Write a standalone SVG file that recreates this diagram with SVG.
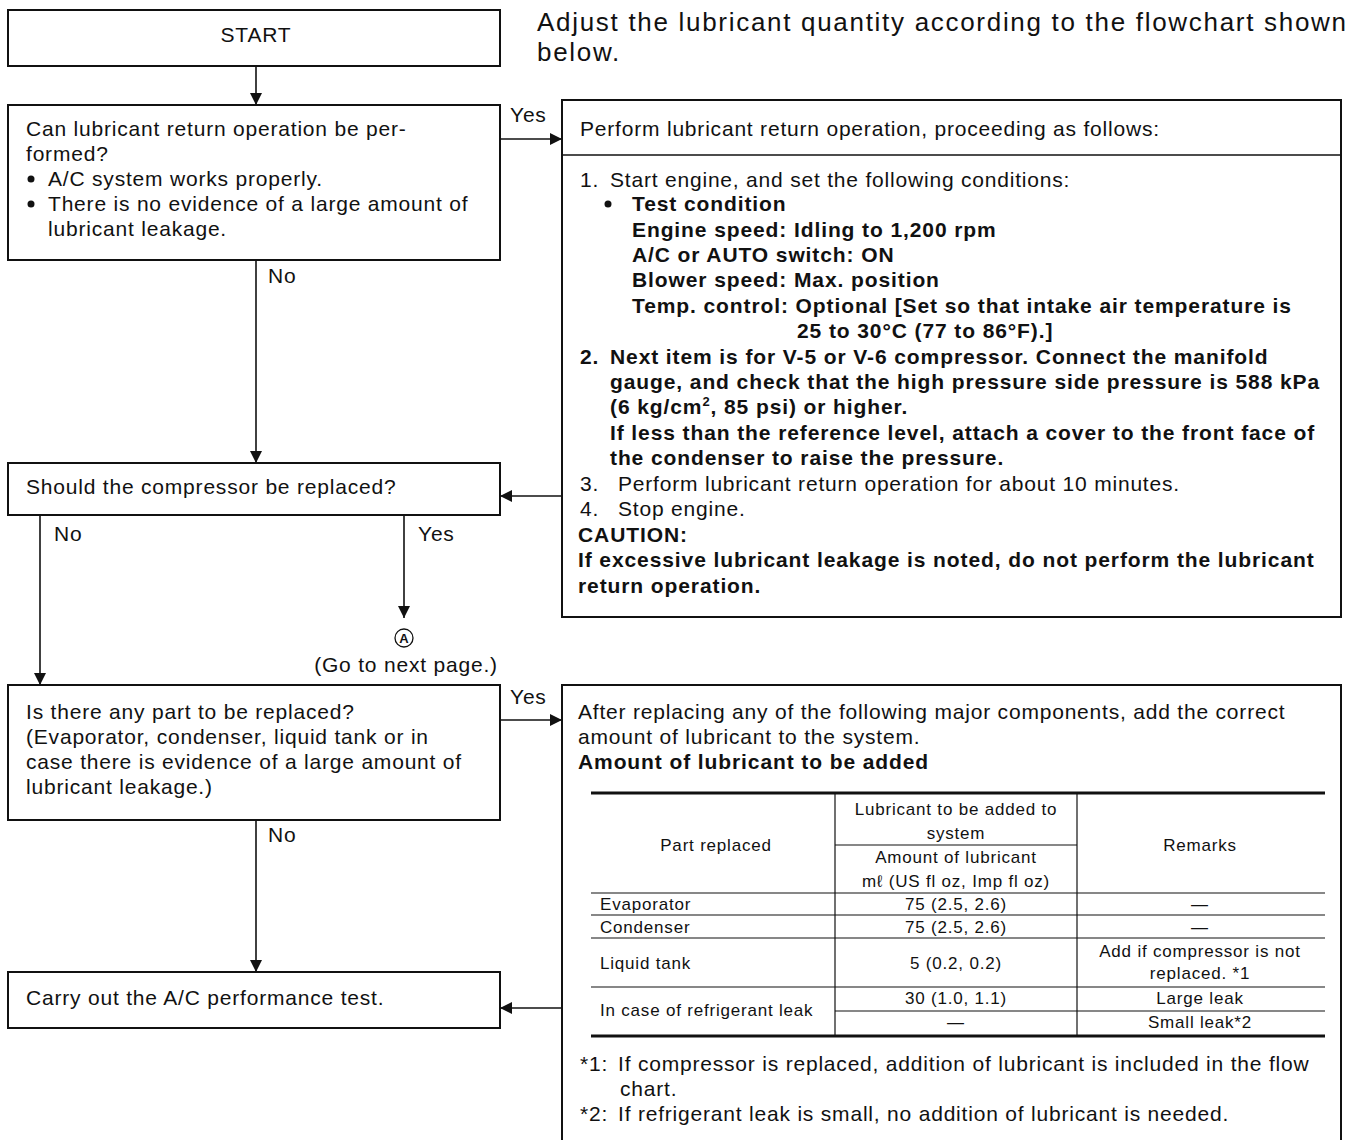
<svg xmlns="http://www.w3.org/2000/svg" width="1351" height="1140" viewBox="0 0 1351 1140">
<defs>
<style>
.box{fill:#fff;stroke:#111;stroke-width:2}
.ln{fill:none;stroke:#111;stroke-width:1.6}
.tl{fill:none;stroke:#111;stroke-width:1.2}
.tk{fill:none;stroke:#111;stroke-width:3}
text{font-family:"Liberation Sans",Arial,sans-serif;fill:#111}
.t{font-size:21px;letter-spacing:0.8px}
.b{font-size:21px;font-weight:bold;letter-spacing:0.9px}
.s{font-size:17px;letter-spacing:0.8px}
.big{font-size:26px;letter-spacing:1.7px}
.m{text-anchor:middle}
</style>
<marker id="ah" viewBox="0 0 10 10" refX="10" refY="5" markerWidth="12" markerHeight="12" markerUnits="userSpaceOnUse" orient="auto">
<path d="M0,0 L10,5 L0,10 z" fill="#111"/>
</marker>
</defs>
<rect width="1351" height="1140" fill="#fff"/>

<text class="big" x="537" y="31">Adjust the lubricant quantity according to the flowchart shown</text>
<text class="big" x="537" y="61">below.</text>

<g id="connectors">
<line class="ln" x1="256" y1="66" x2="256" y2="105" marker-end="url(#ah)"/>
<line class="ln" x1="500" y1="139" x2="562" y2="139" marker-end="url(#ah)"/>
<line class="ln" x1="256" y1="260" x2="256" y2="463" marker-end="url(#ah)"/>
<line class="ln" x1="562" y1="496" x2="500" y2="496" marker-end="url(#ah)"/>
<line class="ln" x1="40" y1="515" x2="40" y2="685" marker-end="url(#ah)"/>
<line class="ln" x1="404" y1="515" x2="404" y2="618" marker-end="url(#ah)"/>
<line class="ln" x1="500" y1="720" x2="562" y2="720" marker-end="url(#ah)"/>
<line class="ln" x1="256" y1="820" x2="256" y2="972" marker-end="url(#ah)"/>
<line class="ln" x1="562" y1="1008" x2="500" y2="1008" marker-end="url(#ah)"/>
<text class="t" x="510" y="122">Yes</text>
<text class="t" x="268" y="283">No</text>
<text class="t" x="54" y="541">No</text>
<text class="t" x="418" y="541">Yes</text>
<text class="t" x="510" y="704">Yes</text>
<text class="t" x="268" y="842">No</text>
</g>

<g id="start">
<rect class="box" x="8" y="10" width="492" height="56"/>
<text class="t m" x="256" y="42">START</text>
</g>

<g id="q-return">
<rect class="box" x="8" y="105" width="492" height="155"/>
<text class="t" x="26" y="136">Can lubricant return operation be per-</text>
<text class="t" x="26" y="161">formed?</text>
<circle cx="31" cy="179" r="3.5" fill="#111"/>
<text class="t" x="48" y="186">A/C system works properly.</text>
<circle cx="31" cy="204" r="3.5" fill="#111"/>
<text class="t" x="48" y="211">There is no evidence of a large amount of</text>
<text class="t" x="48" y="236">lubricant leakage.</text>
</g>

<g id="return-op">
<rect class="box" x="562" y="100" width="779" height="517"/>
<line class="ln" x1="562" y1="155" x2="1341" y2="155"/>
<text class="t" x="580" y="136">Perform lubricant return operation, proceeding as follows:</text>
<text class="t" x="580" y="187">1.</text>
<text class="t" x="610" y="187">Start engine, and set the following conditions:</text>
<circle cx="608" cy="204" r="3.5" fill="#111"/>
<text class="b" x="632" y="211">Test condition</text>
<text class="b" x="632" y="237">Engine speed: Idling to 1,200 rpm</text>
<text class="b" x="632" y="262">A/C or AUTO switch: ON</text>
<text class="b" x="632" y="287">Blower speed: Max. position</text>
<text class="b" x="632" y="313">Temp. control: Optional [Set so that intake air temperature is</text>
<text class="b" x="797" y="338">25 to 30°C (77 to 86°F).]</text>
<text class="b" x="580" y="364">2.</text>
<text class="b" x="610" y="364">Next item is for V-5 or V-6 compressor. Connect the manifold</text>
<text class="b" x="610" y="389">gauge, and check that the high pressure side pressure is 588 kPa</text>
<text class="b" x="610" y="414">(6 kg/cm<tspan font-size="13" dy="-8">2</tspan><tspan dy="8">, 85 psi) or higher.</tspan></text>
<text class="b" x="610" y="440">If less than the reference level, attach a cover to the front face of</text>
<text class="b" x="610" y="465">the condenser to raise the pressure.</text>
<text class="t" x="580" y="491">3.</text>
<text class="t" x="618" y="491">Perform lubricant return operation for about 10 minutes.</text>
<text class="t" x="580" y="516">4.</text>
<text class="t" x="618" y="516">Stop engine.</text>
<text class="b" x="578" y="542">CAUTION:</text>
<text class="b" x="578" y="567">If excessive lubricant leakage is noted, do not perform the lubricant</text>
<text class="b" x="578" y="593">return operation.</text>
</g>

<g id="q-compressor">
<rect class="box" x="8" y="463" width="492" height="52"/>
<text class="t" x="26" y="494">Should the compressor be replaced?</text>
</g>

<g id="goto-a">
<circle cx="404" cy="638" r="9" fill="none" stroke="#111" stroke-width="1.3"/>
<text class="m" x="404" y="643" font-size="13" font-weight="bold">A</text>
<text class="t m" x="406" y="672">(Go to next page.)</text>
</g>

<g id="q-part">
<rect class="box" x="8" y="685" width="492" height="135"/>
<text class="t" x="26" y="719">Is there any part to be replaced?</text>
<text class="t" x="26" y="744">(Evaporator, condenser, liquid tank or in</text>
<text class="t" x="26" y="769">case there is evidence of a large amount of</text>
<text class="t" x="26" y="794">lubricant leakage.)</text>
</g>

<g id="add-lubricant">
<rect class="box" x="562" y="685" width="779" height="460"/>
<text class="t" x="578" y="719">After replacing any of the following major components, add the correct</text>
<text class="t" x="578" y="744">amount of lubricant to the system.</text>
<text class="b" x="578" y="769">Amount of lubricant to be added</text>
<line class="tk" x1="591" y1="793" x2="1325" y2="793"/>
<line class="tl" x1="835" y1="793" x2="835" y2="1036"/>
<line class="tl" x1="1077" y1="793" x2="1077" y2="1036"/>
<line class="tl" x1="835" y1="845" x2="1077" y2="845"/>
<line class="tl" x1="591" y1="893" x2="1325" y2="893"/>
<line class="tl" x1="591" y1="915" x2="1325" y2="915"/>
<line class="tl" x1="591" y1="938" x2="1325" y2="938"/>
<line class="tl" x1="591" y1="987" x2="1325" y2="987"/>
<line class="tl" x1="835" y1="1011" x2="1325" y2="1011"/>
<line class="tk" x1="591" y1="1036" x2="1325" y2="1036"/>
<text class="s m" x="716" y="851">Part replaced</text>
<text class="s m" x="956" y="815">Lubricant to be added to</text>
<text class="s m" x="956" y="839">system</text>
<text class="s m" x="956" y="863">Amount of lubricant</text>
<text class="s m" x="956" y="887">mℓ (US fl oz, Imp fl oz)</text>
<text class="s m" x="1200" y="851">Remarks</text>
<text class="s" x="600" y="910">Evaporator</text>
<text class="s m" x="956" y="910">75 (2.5, 2.6)</text>
<text class="s m" x="1200" y="910">—</text>
<text class="s" x="600" y="933">Condenser</text>
<text class="s m" x="956" y="933">75 (2.5, 2.6)</text>
<text class="s m" x="1200" y="933">—</text>
<text class="s" x="600" y="969">Liquid tank</text>
<text class="s m" x="956" y="969">5 (0.2, 0.2)</text>
<text class="s m" x="1200" y="957">Add if compressor is not</text>
<text class="s m" x="1200" y="979">replaced. *1</text>
<text class="s" x="600" y="1016">In case of refrigerant leak</text>
<text class="s m" x="956" y="1004">30 (1.0, 1.1)</text>
<text class="s m" x="1200" y="1004">Large leak</text>
<text class="s m" x="956" y="1028">—</text>
<text class="s m" x="1200" y="1028">Small leak*2</text>
<text class="t" x="580" y="1071">*1:</text>
<text class="t" x="618" y="1071">If compressor is replaced, addition of lubricant is included in the flow</text>
<text class="t" x="620" y="1096">chart.</text>
<text class="t" x="580" y="1121">*2:</text>
<text class="t" x="618" y="1121">If refrigerant leak is small, no addition of lubricant is needed.</text>
</g>

<g id="perf-test">
<rect class="box" x="8" y="972" width="492" height="56"/>
<text class="t" x="26" y="1005">Carry out the A/C performance test.</text>
</g>
</svg>
